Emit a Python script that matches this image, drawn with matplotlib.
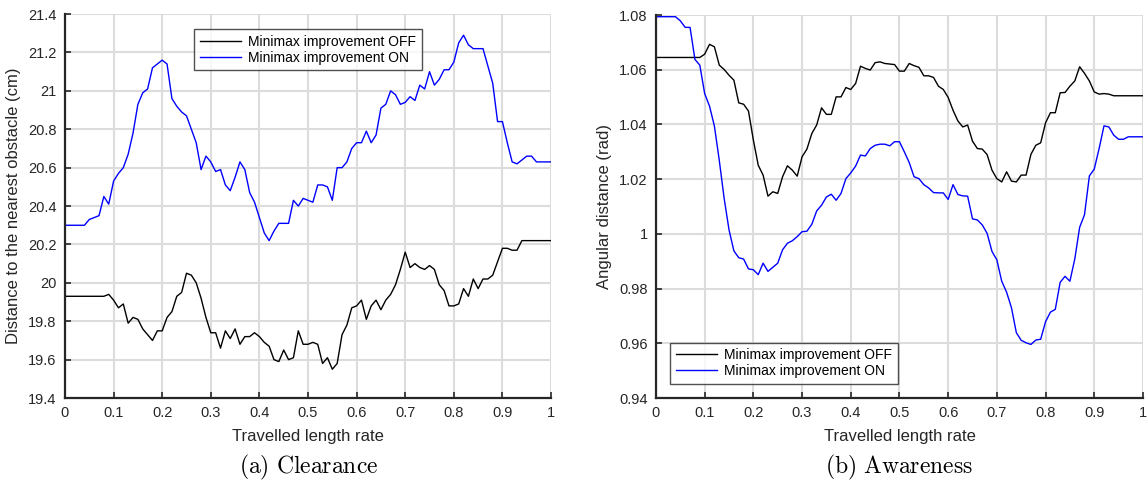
import numpy as np
import matplotlib
matplotlib.use("Agg")
import matplotlib.pyplot as plt
from matplotlib.ticker import FuncFormatter

# travelled length rate, sampled every 0.01
rate = np.linspace(0, 1, 101)

clearance_off = [
    19.93, 19.93, 19.93, 19.93, 19.93, 19.93, 19.93, 19.93, 19.93, 19.94,
    19.91, 19.87, 19.89, 19.79, 19.82, 19.81, 19.76, 19.73, 19.70, 19.75,
    19.75, 19.82, 19.85, 19.93, 19.95, 20.05, 20.04, 20.00, 19.92, 19.82,
    19.74, 19.74, 19.66, 19.75, 19.71, 19.76, 19.68, 19.72, 19.72, 19.74,
    19.72, 19.69, 19.67, 19.60, 19.59, 19.65, 19.60, 19.61, 19.75, 19.68,
    19.68, 19.69, 19.68, 19.58, 19.61, 19.55, 19.58, 19.73, 19.78, 19.87,
    19.88, 19.91, 19.81, 19.88, 19.91, 19.86, 19.91, 19.94, 19.99, 20.07,
    20.16, 20.08, 20.10, 20.08, 20.07, 20.09, 20.07, 19.99, 19.96, 19.88,
    19.88, 19.89, 19.97, 19.93, 20.02, 19.97, 20.02, 20.02, 20.04, 20.11,
    20.18, 20.18, 20.17, 20.17, 20.22, 20.22, 20.22, 20.22, 20.22, 20.22,
    20.22,
]
clearance_on = [
    20.30, 20.30, 20.30, 20.30, 20.30, 20.33, 20.34, 20.35, 20.45, 20.41,
    20.53, 20.57, 20.60, 20.67, 20.78, 20.93, 20.99, 21.01, 21.12, 21.14,
    21.16, 21.14, 20.96, 20.92, 20.89, 20.87, 20.80, 20.73, 20.59, 20.66,
    20.63, 20.58, 20.59, 20.51, 20.48, 20.55, 20.63, 20.59, 20.47, 20.42,
    20.34, 20.26, 20.22, 20.27, 20.31, 20.31, 20.31, 20.43, 20.40, 20.44,
    20.43, 20.42, 20.51, 20.51, 20.50, 20.43, 20.60, 20.60, 20.63, 20.70,
    20.73, 20.73, 20.79, 20.73, 20.77, 20.91, 20.93, 21.00, 20.98, 20.93,
    20.94, 20.97, 20.95, 21.03, 21.01, 21.10, 21.03, 21.06, 21.11, 21.11,
    21.15, 21.25, 21.29, 21.24, 21.22, 21.22, 21.22, 21.13, 21.04, 20.84,
    20.84, 20.73, 20.63, 20.62, 20.64, 20.66, 20.66, 20.63, 20.63, 20.63,
    20.63,
]
awareness_off = [
    1.0645, 1.0645, 1.0645, 1.0645, 1.0645, 1.0645, 1.0645, 1.0645, 1.0645, 1.0645,
    1.0657, 1.0693, 1.0684, 1.0617, 1.0601, 1.0580, 1.0562, 1.0479, 1.0474, 1.0449,
    1.0343, 1.0251, 1.0215, 1.0138, 1.0154, 1.0148, 1.0209, 1.0249, 1.0233, 1.0211,
    1.0282, 1.0310, 1.0367, 1.0398, 1.0461, 1.0437, 1.0437, 1.0501, 1.0501, 1.0535,
    1.0528, 1.0550, 1.0613, 1.0605, 1.0599, 1.0626, 1.0629, 1.0623, 1.0621, 1.0619,
    1.0595, 1.0595, 1.0623, 1.0615, 1.0609, 1.0578, 1.0578, 1.0572, 1.0540, 1.0528,
    1.0499, 1.0452, 1.0413, 1.0391, 1.0398, 1.0339, 1.0312, 1.0310, 1.0290, 1.0233,
    1.0202, 1.0190, 1.0227, 1.0193, 1.0190, 1.0215, 1.0215, 1.0291, 1.0324, 1.0333,
    1.0406, 1.0443, 1.0443, 1.0516, 1.0517, 1.0540, 1.0559, 1.0611, 1.0587, 1.0559,
    1.0519, 1.0511, 1.0513, 1.0511, 1.0505, 1.0505, 1.0505, 1.0505, 1.0505, 1.0505,
    1.0505,
]
awareness_on = [
    1.0794, 1.0794, 1.0794, 1.0794, 1.0794, 1.0779, 1.0755, 1.0755, 1.0638, 1.0617,
    1.0513, 1.0467, 1.0394, 1.0269, 1.0130, 1.0015, 0.9938, 0.9913, 0.9908, 0.9872,
    0.9869, 0.9851, 0.9893, 0.9863, 0.9878, 0.9893, 0.9942, 0.9966, 0.9975, 0.9990,
    1.0008, 1.0010, 1.0035, 1.0084, 1.0105, 1.0135, 1.0145, 1.0123, 1.0148, 1.0202,
    1.0223, 1.0248, 1.0288, 1.0285, 1.0312, 1.0324, 1.0328, 1.0328, 1.0322, 1.0337,
    1.0337, 1.0300, 1.0261, 1.0209, 1.0202, 1.0180, 1.0168, 1.0151, 1.0150, 1.0150,
    1.0126, 1.0180, 1.0144, 1.0139, 1.0138, 1.0055, 1.0051, 1.0033, 1.0002, 0.9936,
    0.9905, 0.9827, 0.9787, 0.9730, 0.9639, 0.9611, 0.9602, 0.9596, 0.9612, 0.9615,
    0.9679, 0.9714, 0.9724, 0.9823, 0.9845, 0.9827, 0.9908, 1.0024, 1.0070, 1.0212,
    1.0237, 1.0312, 1.0395, 1.0391, 1.0361, 1.0346, 1.0346, 1.0355, 1.0355, 1.0355,
    1.0355,
]

series_names = ["Minimax improvement OFF", "Minimax improvement ON"]
series_colors = ["black", "blue"]

x_ticks = np.arange(0, 1.01, 0.1)
clearance_ticks = np.arange(19.4, 21.41, 0.2)
awareness_ticks = np.arange(0.94, 1.081, 0.02)

plt.rcParams["font.family"] = ["Liberation Sans Narrow", "Liberation Sans", "DejaVu Sans"]
plt.rcParams["mathtext.fontset"] = "cm"

fig = plt.figure(figsize=(11.48, 4.86), dpi=100)
ax1 = fig.add_axes([0.0566, 0.181, 0.4234, 0.790])
ax2 = fig.add_axes([0.5714, 0.181, 0.4242, 0.788])

short = FuncFormatter(lambda v, _: f"{round(v, 4):g}")


def style(ax, yticks, ylabel):
    ax.set_xlim(0, 1)
    ax.set_ylim(yticks[0], yticks[-1])
    ax.set_xticks(x_ticks)
    ax.set_yticks(yticks)
    ax.xaxis.set_major_formatter(short)
    ax.yaxis.set_major_formatter(short)
    ax.grid(True, color="#dcdcdc", linewidth=1.5)
    ax.set_axisbelow(True)
    for s in ("top", "right"):
        ax.spines[s].set_visible(False)
    for s in ("left", "bottom"):
        ax.spines[s].set_linewidth(1.6)
        ax.spines[s].set_color("#262626")
    ax.tick_params(direction="in", length=4, width=1.2, color="#262626",
                   labelsize=10.5, labelcolor="#262626", pad=6)
    ax.set_xlabel("Travelled length rate", fontsize=12, color="#262626", labelpad=6)
    ax.set_ylabel(ylabel, fontsize=12, color="#262626", labelpad=5)


for ax, off, on in ((ax1, clearance_off, clearance_on), (ax2, awareness_off, awareness_on)):
    ax.plot(rate, off, color=series_colors[0], lw=1.0, label=series_names[0])
    ax.plot(rate, on, color=series_colors[1], lw=1.0, label=series_names[1])

style(ax1, clearance_ticks, "Distance to the nearest obstacle (cm)")
style(ax2, awareness_ticks, "Angular distance (rad)")

leg_kw = dict(frameon=True, fancybox=False, edgecolor="#262626",
              handlelength=3.0, handletextpad=0.5, borderpad=0.4,
              labelspacing=0.15, borderaxespad=0.0,
              prop={"family": ["Liberation Sans", "DejaVu Sans"], "size": 10})
l1 = ax1.legend(loc="upper center", bbox_to_anchor=(0.5, 0.961), **leg_kw)
l2 = ax2.legend(loc="lower left", bbox_to_anchor=(0.029, 0.037), **leg_kw)
for leg in (l1, l2):
    leg.get_frame().set_linewidth(1.0)

fig.text(0.2686, 0.025, r"$\mathrm{(a)\ Clearance}$", ha="center", fontsize=17)
fig.text(0.7835, 0.025, r"$\mathrm{(b)\ Awareness}$", ha="center", fontsize=17)

fig.savefig("out.png", dpi=100)
